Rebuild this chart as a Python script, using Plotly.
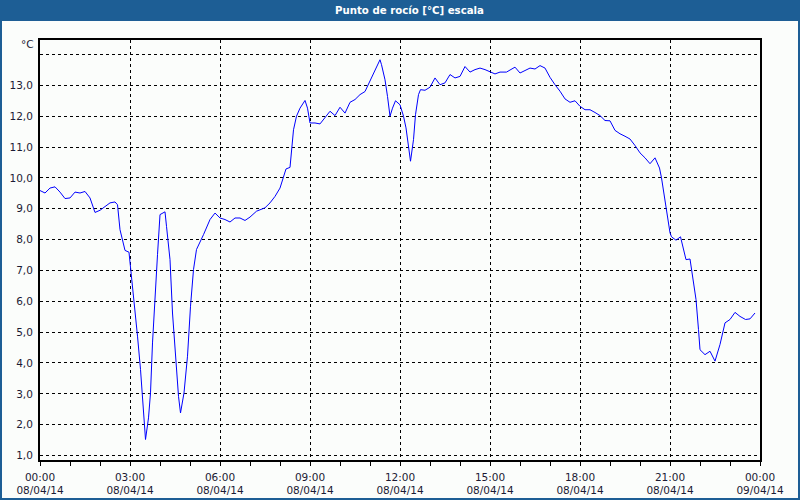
import pandas as pd
import plotly.graph_objects as go

# Minutes after 08/04/14 00:00 and dew point values [°C]
minutes = [0, 10, 20, 30, 40, 50, 60, 70, 80, 90, 100, 110, 120, 130, 140, 150, 155, 160, 170, 178,
           181, 190, 195, 201, 207, 211, 217, 221, 225, 230, 235, 240, 250, 253, 260, 265, 272, 277, 281, 288,
           295, 301, 307, 313, 327, 340, 350, 360, 370, 380, 390, 400, 410, 420, 433, 450, 460, 470, 480, 487,
           492, 500, 503, 507, 513, 520, 530, 535, 540, 550, 560, 570, 580, 590, 600, 610, 620, 630, 640, 650,
           660, 670, 680, 683, 690, 695, 700, 705, 711, 720, 727, 732, 737, 741, 747, 751, 757, 761, 770, 780,
           790, 800, 810, 820, 830, 840, 850, 860, 870, 880, 890, 900, 910, 920, 933, 950, 960, 970, 980, 990,
           1000, 1010, 1020, 1030, 1040, 1050, 1060, 1070, 1080, 1090, 1100, 1110, 1120, 1130, 1140, 1150, 1160, 1170, 1180, 1190,
           1200, 1210, 1220, 1230, 1239, 1243, 1248, 1253, 1260, 1263, 1272, 1281, 1287, 1292, 1300, 1305, 1312, 1317, 1320, 1330,
           1340, 1350, 1360, 1370, 1380, 1390, 1400, 1411, 1420, 1430]
dew_point = [9.59, 9.51, 9.67, 9.71, 9.54, 9.33, 9.35, 9.54, 9.51, 9.56, 9.35, 8.88, 8.95, 9.08, 9.19, 9.22, 9.13, 8.32, 7.65, 7.59,
             7.13, 5.84, 4.87, 3.79, 2.49, 1.52, 2.22, 3.03, 4.65, 6.27, 7.51, 8.81, 8.90, 8.43, 7.35, 5.62, 3.89, 2.92, 2.38, 3.03,
             4.22, 5.84, 7.03, 7.68, 8.16, 8.65, 8.86, 8.70, 8.65, 8.57, 8.70, 8.70, 8.62, 8.73, 8.92, 9.03, 9.19, 9.40, 9.67, 10.0,
             10.29, 10.34, 10.81, 11.56, 12.0, 12.26, 12.51, 12.26, 11.78, 11.78, 11.75, 11.97, 12.16, 12.02, 12.29, 12.10, 12.45, 12.54, 12.70, 12.80,
             13.13, 13.51, 13.83, 13.67, 13.18, 12.64, 12.0, 12.26, 12.50, 12.37, 12.0, 11.62, 11.02, 10.54, 11.24, 12.05, 12.70, 12.86, 12.84, 12.94,
             13.24, 13.02, 13.08, 13.35, 13.24, 13.29, 13.61, 13.43, 13.51, 13.56, 13.51, 13.45, 13.37, 13.43, 13.43, 13.59, 13.40, 13.48, 13.56, 13.53,
             13.64, 13.56, 13.26, 13.02, 12.81, 12.56, 12.45, 12.50, 12.32, 12.21, 12.21, 12.12, 12.02, 11.86, 11.85, 11.54, 11.43, 11.35, 11.26, 11.05,
             10.81, 10.65, 10.46, 10.65, 10.32, 10.0, 9.51, 8.97, 8.22, 8.09, 7.98, 8.09, 7.68, 7.35, 7.37, 6.81, 6.06, 5.08, 4.43, 4.27,
             4.38, 4.06, 4.60, 5.30, 5.41, 5.64, 5.51, 5.41, 5.43, 5.62]

x_tick_hours = [0, 3, 6, 9, 12, 15, 18, 21, 24]
x_tick_text = ["00:00<br>08/04/14", "03:00<br>08/04/14", "06:00<br>08/04/14", "09:00<br>08/04/14",
               "12:00<br>08/04/14", "15:00<br>08/04/14", "18:00<br>08/04/14", "21:00<br>08/04/14",
               "00:00<br>09/04/14"]
y_tick_vals = [1, 2, 3, 4, 5, 6, 7, 8, 9, 10, 11, 12, 13, 14]
y_tick_text = ["1,0", "2,0", "3,0", "4,0", "5,0", "6,0", "7,0", "8,0", "9,0", "10,0", "11,0", "12,0", "13,0", ""]

title_text = "Punto de rocío [°C] escala"
unit_text = "°C"

start = pd.Timestamp("2014-04-08 00:00")
times = [start + pd.Timedelta(minutes=m) for m in minutes]
tick_times = [start + pd.Timedelta(hours=h) for h in x_tick_hours]

FONT = "Tahoma, DejaVu Sans, sans-serif"
TXT = "#1b1b34"
BLUE = "#1d5e95"
BG = "#fbfdfb"

fig = go.Figure()
fig.add_trace(go.Scatter(x=times, y=dew_point, mode="lines",
                         line=dict(color="#0000ff", width=1), showlegend=False))

fig.update_layout(
    width=800, height=500,
    margin=dict(l=40, r=40, t=40, b=40, autoexpand=False),
    paper_bgcolor=BG, plot_bgcolor=BG,
    showlegend=False,
    font=dict(family=FONT, size=10.5, color=TXT),
    xaxis=dict(
        range=[tick_times[0], tick_times[-1]],
        automargin=False,
        tickmode="array", tickvals=tick_times, ticktext=x_tick_text,
        ticks="outside", ticklen=4, tickcolor="black", tickwidth=1,
        ticklabelstandoff=2,
        showline=True, linecolor="black", linewidth=2, mirror=True,
        showgrid=True, gridcolor="black", gridwidth=1, griddash="3px,3px",
        zeroline=False,
        minor=dict(dtick=3600000, ticks="outside", ticklen=4, tickcolor="black", showgrid=False),
        tickfont=dict(family=FONT, size=10.5, color=TXT),
    ),
    yaxis=dict(
        range=[0.855, 14.47],
        automargin=False,
        tickmode="array", tickvals=y_tick_vals, ticktext=y_tick_text,
        ticks="", ticklabelstandoff=3,
        showline=True, linecolor="black", linewidth=2, mirror=True,
        showgrid=True, gridcolor="black", gridwidth=1, griddash="3px,3px",
        zeroline=False,
        tickfont=dict(family=FONT, size=10.5, color=TXT),
    ),
)

# window frame: title bar and blue border
fig.add_shape(type="rect", xref="paper", yref="paper",
              x0=-40/720, x1=760/720, y0=(460-21)/420, y1=460/420,
              fillcolor=BLUE, line=dict(width=0), layer="above")
fig.add_shape(type="rect", xref="paper", yref="paper",
              x0=(1-40)/720, x1=(799-40)/720, y0=(460-499)/420, y1=(460-1)/420,
              fillcolor="rgba(0,0,0,0)", line=dict(color=BLUE, width=2), layer="above")

fig.add_annotation(text="<b>" + title_text + "</b>", xref="paper", yref="paper",
                   x=(410-40)/720, y=(460-10.5)/420, showarrow=False,
                   xanchor="center", yanchor="middle",
                   font=dict(family=FONT, size=10.2, color="white"))
fig.add_annotation(text=unit_text, xref="paper", yref="paper",
                   x=(36-40)/720, y=(460-44.5)/420, showarrow=False,
                   xanchor="right", yanchor="middle",
                   font=dict(family=FONT, size=10.5, color=TXT))

fig.write_html("out.html")
